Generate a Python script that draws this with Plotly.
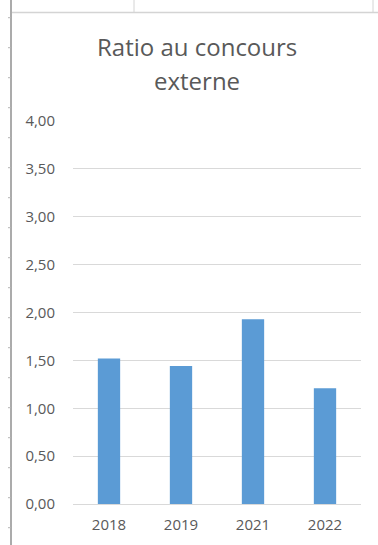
import plotly.graph_objects as go

# Ratio au concours externe, par session
years = ["2018", "2019", "2021", "2022"]
ratios = [1.52, 1.44, 1.93, 1.21]
y_ticks = [0, 0.5, 1.0, 1.5, 2.0, 2.5, 3.0, 3.5, 4.0]
y_tick_labels = ["0,00", "0,50", "1,00", "1,50", "2,00", "2,50", "3,00", "3,50", "4,00"]
title_lines = ["Ratio au concours", "externe"]

W, H = 378, 545
L, R, T, B = 73, 17, 121, 41
pw, ph = W - L - R, H - T - B

def px_x(x):
    return (x - L) / pw

def px_y(y):
    return (H - B - y) / ph

text_color = "#595959"
grid_color = "#d9d9d9"
bar_color = "#5b9bd5"

fig = go.Figure(
    go.Bar(
        x=years,
        y=ratios,
        marker=dict(color=bar_color, line=dict(width=0)),
        hoverinfo="x+y",
    )
)

# spreadsheet cell borders around the embedded chart
shapes = [
    dict(type="line", xref="paper", yref="paper",
         x0=px_x(11), x1=px_x(11), y0=px_y(0), y1=px_y(H),
         line=dict(color="#ababab", width=2)),
    dict(type="line", xref="paper", yref="paper",
         x0=px_x(12), x1=px_x(W), y0=px_y(12.5), y1=px_y(12.5),
         line=dict(color="#d4d4d4", width=1.5)),
    dict(type="line", xref="paper", yref="paper",
         x0=px_x(134), x1=px_x(134), y0=px_y(0), y1=px_y(12),
         line=dict(color="#d4d4d4", width=1)),
    dict(type="line", xref="paper", yref="paper",
         x0=px_x(373), x1=px_x(373), y0=px_y(0), y1=px_y(12),
         line=dict(color="#d4d4d4", width=1)),
]
row_y = 17.7
while row_y < H:
    shapes.append(dict(type="line", xref="paper", yref="paper",
                       x0=px_x(8), x1=px_x(11), y0=px_y(row_y), y1=px_y(row_y),
                       line=dict(color="#b5b5b5", width=1)))
    row_y += 30

# two-line chart title, centred on the chart area
annotations = [
    dict(text=title_lines[0], xref="paper", yref="paper",
         x=px_x(197), y=px_y(46), xanchor="center", yanchor="middle",
         showarrow=False, font=dict(size=24, color=text_color)),
    dict(text=title_lines[1], xref="paper", yref="paper",
         x=px_x(197), y=px_y(80), xanchor="center", yanchor="middle",
         showarrow=False, font=dict(size=24, color=text_color)),
]

fig.update_layout(
    width=W,
    height=H,
    margin=dict(l=L, r=R, t=T, b=B, pad=0),
    paper_bgcolor="white",
    plot_bgcolor="white",
    showlegend=False,
    bargap=0.69,
    font=dict(family="Open Sans, Noto Sans, sans-serif", color=text_color),
    xaxis=dict(
        type="category",
        showgrid=False,
        showline=True,
        linecolor=grid_color,
        linewidth=1,
        ticks="",
        tickfont=dict(size=15, color=text_color),
        ticklabelstandoff=7,
        fixedrange=True,
    ),
    yaxis=dict(
        range=[0, 4],
        tickvals=y_ticks,
        ticktext=y_tick_labels,
        showgrid=True,
        gridcolor=grid_color,
        gridwidth=1,
        zeroline=False,
        showline=False,
        ticks="",
        tickfont=dict(size=15, color=text_color),
        ticklabelstandoff=17,
        fixedrange=True,
    ),
    shapes=shapes,
    annotations=annotations,
)

fig.write_html("out.html")
